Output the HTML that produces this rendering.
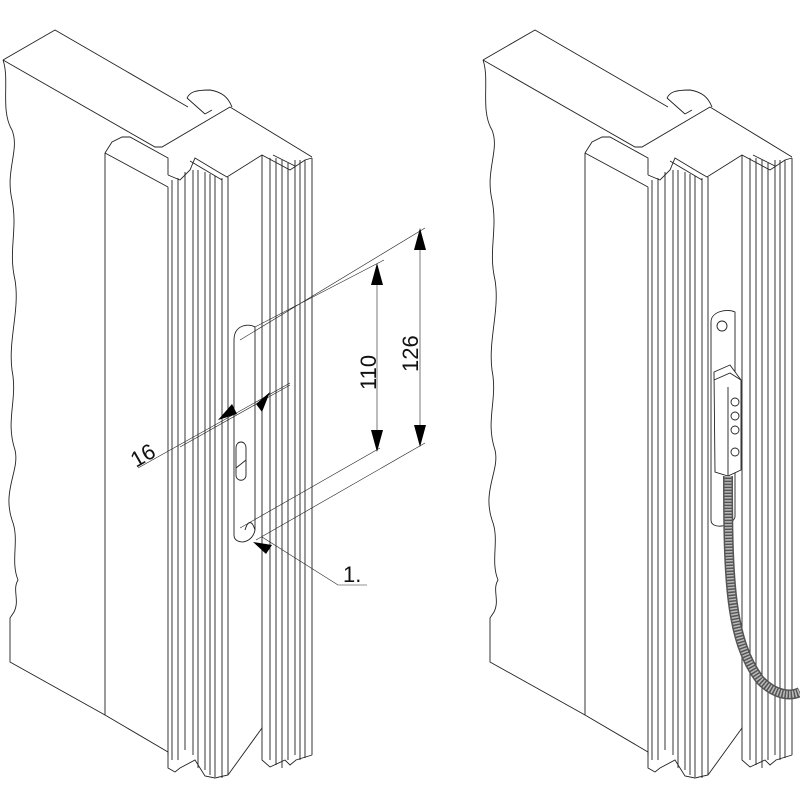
<!DOCTYPE html>
<html><head><style>html,body{margin:0;padding:0;background:#fff}svg{display:block}</style></head>
<body>
<svg width="800" height="800" viewBox="0 0 800 800" xmlns="http://www.w3.org/2000/svg" font-family="Liberation Sans, sans-serif">
<defs>
<g id="fig" fill="none" stroke="#222" stroke-width="0.9">
  <path d="M3,60 L55,30 L188,107 M3,60 C10,80 0,110 12,130 C20,150 5,170 12,200 C18,230 8,250 15,280 C20,310 8,340 12,370 C18,400 5,420 15,450 C20,470 2,490 12,520 C20,540 10,560 18,580 C12,590 20,600 14,612 L10,618 L10,662 L105,715"/>
  <path d="M3,60 L155,147 L162,147 L230,107"/>
  <path d="M187,98 C190,92 195,90 210,90 C222,92 228,97 232,107 M187,98 L205,114 M205,114 L212,110"/>
  <path d="M105,153 L112,142 L122,137 L130,137 L168,158 L168,175 M168,175 L180,180 L190,170 L195,158 L220,173 L227,177 L262,155 L290,170 L305,160 L312,158 M230,107 L312,157"/>
  <path d="M190,161 L222,180 M273,155 L295,166"/>
  <path d="M105,153 L105,715 L168,752 M168,187 L168,755 M105,153 L168,187"/>
  <path d="M172,180 L172,760 M178,178 L178,760 M185,172 L185,750 M193,170 L193,755 M198,170 L198,768 M205,172 L205,770 M210,174 L210,775 M215,176 L215,777 M222,178 L222,778 M228,177 L228,775"/>
  <path d="M262,155 L262,728 M270,158 L270,760 M276,158 L276,765 M282,160 L282,768 M288,163 L288,760 M295,160 L295,755 M300,160 L300,760 M305,160 L305,758 M312,158 L312,755"/>
  <path d="M168,752 L168,768 L175,772 L180,768 L195,760 L200,768 L205,776 L215,778 L228,775 L262,728 L262,760 L270,767 L285,760 L290,765 L296,760 L312,755"/>
</g>
</defs>
<use href="#fig"/>
<use href="#fig" x="480"/>
<g fill="none" stroke="#222" stroke-width="0.9">
  <path d="M234,340 C234,325 248,323 255,327 L255,530 C252,545 234,545 234,535 Z"/>
  <path d="M236,448 C236,440 246,440 246,448 L246,475 C246,482 236,482 236,475 Z M236,468 L246,460"/>
  <path d="M255,530 C252,520 248,520 245,530"/>
  <g stroke-width="0.6">
    <path d="M240,340 L425,228 M240,528 L380,448 M255,327 L384,260 M256,540 L425,443"/>
    <path d="M138,468 L290,383 M180,447 L290,385"/>
    <path d="M377,268 L377,448 M420,232 L420,443"/>
    <path d="M262,537 L338,585 L367,585"/>
  </g>
</g>
<g fill="#000">
  <polygon points="377,263 371,285 383,285"/>
  <polygon points="377,452 371,430 383,430"/>
  <polygon points="420,228 414,250 426,250"/>
  <polygon points="420,447 414,425 426,425"/>
  <polygon points="218,420 232,404 237,414"/>
  <polygon points="270,392 256,404 262,412"/>
  <polygon points="253,542 272,545 266,554"/>
</g>
<text font-size="22" transform="translate(376,390) rotate(-90)" fill="#111">110</text>
<text font-size="22" transform="translate(418,372) rotate(-90)" fill="#111">126</text>
<text font-size="22" transform="translate(136,468) rotate(-30)" fill="#111">16</text>
<text x="343" y="582" font-size="22" fill="#111">1.</text>
<g fill="#fff" stroke="#222" stroke-width="0.9">
  <path d="M711,322 C711,312 726,308 735,312 L735,517 C732,527 711,530 711,520 Z"/>
  <circle cx="722" cy="326" r="5"/>
  <path d="M714,372 L730,365 L741,380 L741,470 L728,476 L715,472 Z"/>
  <path d="M714,380 L730,373 L741,380 M728,387 L728,476"/>
  <circle cx="735" cy="402" r="4"/><circle cx="735" cy="416" r="4"/><circle cx="735" cy="430" r="4"/><circle cx="735" cy="452" r="4"/>
</g>
<path d="M728,476 C728,580 730,640 760,680 C775,695 790,697 800,692" fill="none" stroke="#555" stroke-width="10"/>
<path d="M728,476 C728,580 730,640 760,680 C775,695 790,697 800,692" fill="none" stroke="#bbb" stroke-width="7" stroke-dasharray="1.5 1.5"/>
</svg>
</body></html>
